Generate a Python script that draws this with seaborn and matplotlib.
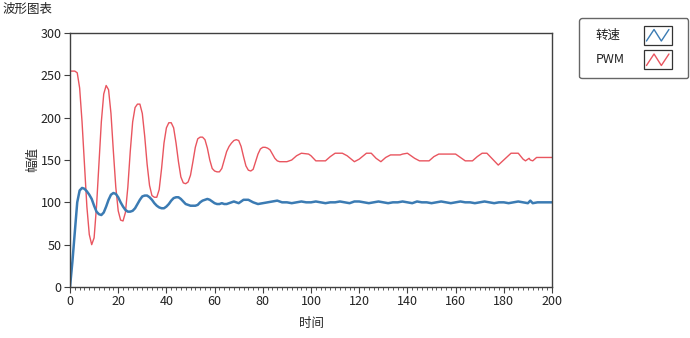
import numpy as np
import pandas as pd
import matplotlib
matplotlib.use('Agg')
import matplotlib.pyplot as plt
import seaborn as sns
from matplotlib.legend_handler import HandlerBase
from matplotlib.patches import Rectangle
from matplotlib.lines import Line2D
from matplotlib.text import Text

sns.set_theme(style='ticks')
plt.rcParams['font.family'] = ['Noto Sans CJK SC', 'DejaVu Sans']

# 转速 (speed) readings
t_speed = [0, 1, 2, 3, 4, 5, 6, 7, 8, 9, 10, 11, 12, 13, 14, 15, 16, 17, 18, 19,
           20, 21, 22, 23, 24, 25, 26, 27, 28, 29, 30, 31, 32, 33, 34, 35, 36, 37, 38, 39,
           40, 41, 42, 43, 44, 45, 46, 47, 48, 49, 50, 51, 52, 53, 54, 55, 56, 57, 58, 59,
           60, 61, 62, 63, 64, 65, 66, 67, 68, 69, 70, 72, 74, 76, 78, 80, 82, 84, 86, 88,
           90, 92, 94, 96, 98, 100, 102, 104, 106, 108, 110, 112, 114, 116, 118, 120, 122, 124, 126, 128,
           130, 132, 134, 136, 138, 140, 142, 144, 146, 148, 150, 152, 154, 156, 158, 160, 162, 164, 166, 168,
           170, 172, 174, 176, 178, 180, 182, 184, 186, 188, 190, 191, 192, 194, 196, 198, 200]
speed = [0, 30, 65, 100, 114, 117, 116, 113, 109, 104, 96, 89, 86, 85, 88, 95, 103, 109, 111, 110,
         106, 100, 95, 91, 89, 89, 90, 93, 98, 103, 107, 108, 108, 106, 103, 99, 96, 94, 93, 93,
         95, 98, 102, 105, 106, 106, 104, 101, 98, 97, 96, 96, 96, 97, 100, 102, 103, 104, 103, 101,
         99, 98, 98, 99, 98, 98, 99, 100, 101, 100, 99, 103, 103, 100, 98, 99, 100, 101, 102, 100,
         100, 99, 100, 101, 100, 100, 101, 100, 99, 100, 100, 101, 100, 99, 101, 101, 100, 99, 100, 101,
         100, 99, 100, 100, 101, 100, 99, 101, 100, 100, 99, 100, 101, 100, 99, 100, 101, 100, 100, 99,
         100, 101, 100, 99, 100, 100, 99, 100, 101, 100, 99, 102, 99, 100, 100, 100, 100]

# PWM readings
t_pwm = [0, 1, 2, 3, 4, 5, 6, 7, 8, 9, 10, 11, 12, 13, 14, 15, 16, 17, 18, 19,
         20, 21, 22, 23, 24, 25, 26, 27, 28, 29, 30, 31, 32, 33, 34, 35, 36, 37, 38, 39,
         40, 41, 42, 43, 44, 45, 46, 47, 48, 49, 50, 51, 52, 53, 54, 55, 56, 57, 58, 59,
         60, 61, 62, 63, 64, 65, 66, 67, 68, 69, 70, 71, 72, 73, 74, 75, 76, 77, 78, 79,
         80, 81, 82, 83, 84, 85, 86, 87, 88, 89, 90, 92, 94, 96, 99, 100, 102, 106, 108, 110,
         113, 115, 118, 120, 123, 125, 127, 129, 131, 133, 137, 138, 140, 141, 143, 145, 149, 151, 153, 158,
         160, 162, 164, 167, 169, 171, 173, 175, 177.7, 180, 183, 186, 188, 189, 190.5, 191, 192, 193.6, 200]
pwm = [255, 255, 255, 253, 235, 195, 145, 95, 62, 50, 58, 95, 145, 195, 228, 238, 233, 205, 160, 118,
       90, 79, 78, 88, 118, 160, 195, 212, 216, 216, 205, 178, 145, 120, 108, 106, 106, 115, 140, 170,
       188, 194, 194, 188, 170, 148, 130, 123, 122, 124, 132, 148, 165, 175, 177, 177, 174, 164, 150, 140,
       137, 136, 136, 140, 150, 160, 166, 170, 173, 174, 173, 166, 154, 143, 138, 137, 139, 148, 157, 163,
       165, 165, 164, 162, 157, 152, 149, 148, 148, 148, 148, 150, 155, 158, 157, 155, 149, 149, 154, 158,
       158, 155, 148, 151, 158, 158, 152, 148, 153, 156, 156, 157, 158, 156, 152, 149, 149, 154, 157, 157,
       157, 153, 149, 149, 154, 158, 158, 152, 144, 150, 158, 158, 151, 149, 152, 150, 149, 153, 153]

series_names = ['转速', 'PWM']
x_ticks = np.arange(0, 201, 20)
y_ticks = np.arange(0, 301, 50)

df_speed = pd.DataFrame({'时间': t_speed, '幅值': speed})
df_pwm = pd.DataFrame({'时间': t_pwm, '幅值': pwm})

blue = '#3b7bb3'
red = '#e9555f'
edge = '#404040'

fig = plt.figure(figsize=(6.9, 3.38), dpi=100)
ax = fig.add_axes([70 / 690, 51 / 338, 482 / 690, 254 / 338])

sns.lineplot(data=df_pwm, x='时间', y='幅值', ax=ax, color=red, lw=1.0, legend=False)
sns.lineplot(data=df_speed, x='时间', y='幅值', ax=ax, color=blue, lw=1.8, legend=False)

ax.set_xlim(0, 200)
ax.set_ylim(0, 300)
ax.set_xticks(x_ticks)
ax.set_yticks(y_ticks)
ax.set_xticks(np.arange(0, 201, 2), minor=True)
ax.tick_params(axis='both', which='major', labelsize=9, length=4, width=0.8, color=edge, labelcolor='#222222', pad=2)
ax.tick_params(axis='x', which='minor', length=2.5, width=0.6, color=edge)
for s in ax.spines.values():
    s.set_color(edge)
    s.set_linewidth(1.0)
ax.set_xlabel('时间', fontsize=9, labelpad=6)
ax.set_ylabel('幅值', fontsize=9, labelpad=1)

fig.text(0.003, 1 - 9 / 338, '波形图表', fontsize=9, va='center', ha='left', color='#222222')


class IconHandler(HandlerBase):
    # label on the left, boxed zigzag icon on the right
    def create_artists(self, legend, orig_handle, xdescent, ydescent, width, height, fontsize, trans):
        x0, y0 = -xdescent, -ydescent
        inset = 0.4 * fontsize
        iw = 2.25 * fontsize
        h = height * 1.6
        yb = y0 + height / 2 - h / 2
        bx = x0 + width - iw - inset
        txt = Text(x0 + inset, y0 + height / 2, orig_handle.get_label(), fontsize=fontsize, color='#222222',
                   va='center', ha='left', transform=trans)
        box = Rectangle((bx, yb), iw, h, facecolor='white', edgecolor='#333333', lw=0.9, transform=trans)
        xs = bx + iw * np.array([0.1, 0.37, 0.63, 0.9])
        ys = yb + h * np.array([0.2, 0.8, 0.2, 0.8])
        wave = Line2D(xs, ys, color=orig_handle.get_color(), lw=1.0, transform=trans)
        return [txt, box, wave]


handles = [Line2D([], [], color=blue, label=series_names[0]),
           Line2D([], [], color=red, label=series_names[1])]
leg = fig.legend(handles, ['', ''], loc='upper right', bbox_to_anchor=(688 / 690, 1 - 18 / 338),
                 borderaxespad=0, handlelength=6.9, handleheight=1.1, handletextpad=0,
                 labelspacing=0.9, borderpad=0.9, fontsize=9, frameon=True, fancybox=True,
                 handler_map={Line2D: IconHandler()})
leg.get_frame().set_edgecolor(edge)
leg.get_frame().set_linewidth(1.0)

fig.savefig('out.png', dpi=100)
